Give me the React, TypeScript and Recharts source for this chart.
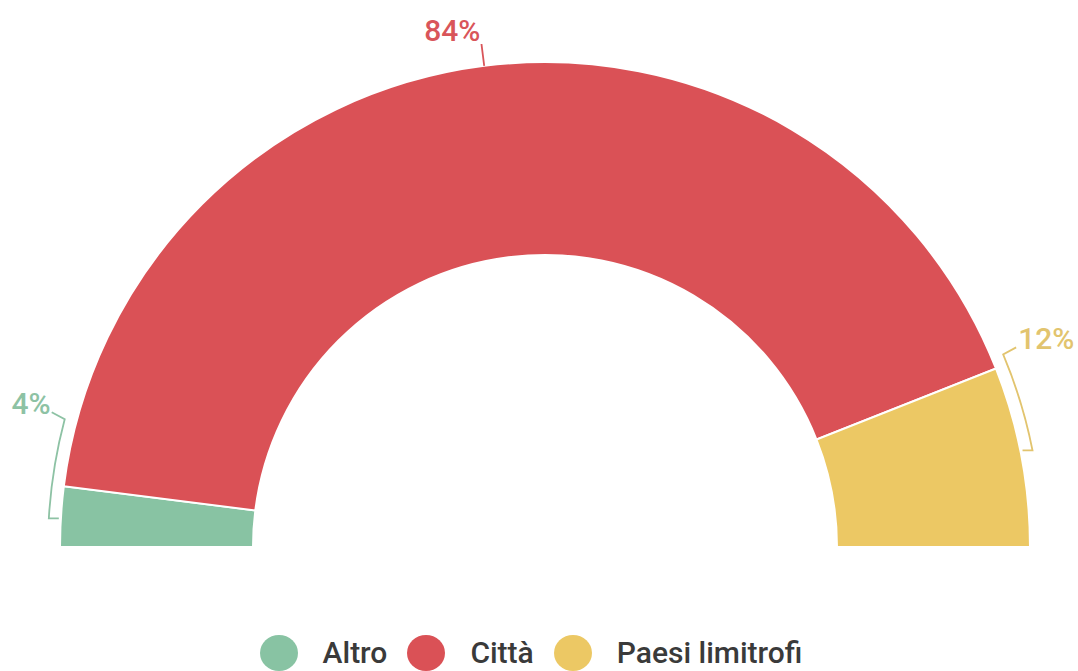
import React from "react";
import { PieChart, Pie, Cell, Legend } from "recharts";

const categories = ["Altro", "Città", "Paesi limitrofi"];
const shares = [4, 84, 12];
const colors = ["#88c3a3", "#da5156", "#ecc864"];
const labelColors = ["#8dc2a4", "#d9555a", "#e2c46e"];
const labelTexts = ["4%", "84%", "12%"];

const data = categories.map((name, i) => ({ name, value: shares[i] }));

const RAD = Math.PI / 180;
const FONT = "Roboto, 'Noto Sans', sans-serif";

function pt(cx: number, cy: number, r: number, a: number) {
  return [cx + r * Math.cos(a * RAD), cy - r * Math.sin(a * RAD)];
}

const renderLabel = (props: any) => {
  const { cx, cy, outerRadius, startAngle, endAngle, index } = props;
  const mid = (startAngle + endAngle) / 2;
  const span = Math.abs(endAngle - startAngle);
  const color = labelColors[index];
  const text = labelTexts[index];
  if (span > 60) {
    const [x1, y1] = pt(cx, cy, outerRadius, mid);
    const [x2, y2] = pt(cx, cy, outerRadius + 22, mid);
    return (
      <g>
        <line x1={x1} y1={y1} x2={x2} y2={y2} stroke={color} strokeWidth={1.8} />
        <text x={x2 - 1} y={y2 - 3} textAnchor="end" fill={color} fontSize={30} fontWeight={500} fontFamily={FONT}>
          {text}
        </text>
      </g>
    );
  }
  const left = mid > 90;
  const center = mid + (left ? -5.5 : 6.2);
  const half = 5.8;
  const R = outerRadius + 12;
  const low = left ? center + half : center - half;
  const high = left ? center - half : center + half;
  const [lx, ly] = pt(cx, cy, R, low);
  const [hx, hy] = pt(cx, cy, R, high);
  const tick = left ? 10 : -10;
  const ex = hx + (left ? -13 : 13);
  const ey = hy - 7;
  const sweep = left ? 1 : 0;
  const d = `M ${lx + tick} ${ly} L ${lx} ${ly} A ${R} ${R} 0 0 ${sweep} ${hx} ${hy} L ${ex} ${ey}`;
  return (
    <g>
      <path d={d} fill="none" stroke={color} strokeWidth={1.8} />
      <text
        x={left ? ex - 1 : ex + 2}
        y={ey + 2}
        textAnchor={left ? "end" : "start"}
        fill={color}
        fontSize={30}
        fontWeight={500}
        fontFamily={FONT}
      >
        {text}
      </text>
    </g>
  );
};

const renderLegend = (props: any) => {
  const { payload } = props;
  return (
    <div
      style={{
        display: "flex",
        justifyContent: "center",
        alignItems: "center",
        fontFamily: FONT,
        paddingRight: 16,
      }}
    >
      {(payload || []).map((entry: any, i: number) => (
        <div key={i} style={{ display: "flex", alignItems: "center", marginRight: i < payload.length - 1 ? 20 : 0 }}>
          <span
            style={{
              display: "inline-block",
              width: 38,
              height: 36,
              borderRadius: "50%",
              background: entry.color,
              marginRight: 25,
            }}
          />
          <span style={{ fontSize: 30, fontWeight: 500, color: "#3a3a3a", lineHeight: "36px" }}>{entry.value}</span>
        </div>
      ))}
    </div>
  );
};

export default function App() {
  return (
    <div style={{ position: "absolute", left: 0, top: 0, width: 1078, height: 671, background: "#fff" }}>
      <PieChart width={1078} height={671} margin={{ top: 0, right: 0, bottom: 0, left: 0 }}>
        <Pie
          data={data}
          dataKey="value"
          nameKey="name"
          cx={545}
          cy={547}
          startAngle={180}
          endAngle={0}
          innerRadius={292}
          outerRadius={485}
          stroke="#fff"
          strokeWidth={2}
          label={renderLabel}
          labelLine={false}
          isAnimationActive={false}
        >
          {data.map((d, i) => (
            <Cell key={d.name} fill={colors[i]} />
          ))}
        </Pie>
        <Legend
          content={renderLegend}
          wrapperStyle={{ position: "absolute", left: 0, top: 635, width: 1078 }}
          payload={data.map((d, i) => ({ value: d.name, type: "circle", color: colors[i], id: d.name }))}
        />
      </PieChart>
    </div>
  );
}
